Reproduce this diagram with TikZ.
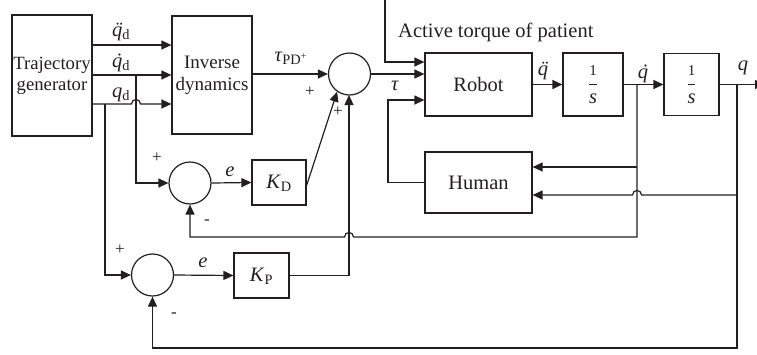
\documentclass[tikz,border=0pt]{standalone}
\usepackage{fix-cm}
\usepackage{fontspec}
\setmainfont{Liberation Serif}
\usetikzlibrary{arrows.meta}
\definecolor{ink}{RGB}{35,31,32}
\tikzset{
  ln/.style={draw=ink, line width=1.2pt},
  arr/.style={ln, -{Triangle[length=10pt,width=9pt]}},
  blk/.style={ln, rectangle, inner sep=0pt, font=\fontsize{20.5}{22}\selectfont, align=center, text=ink},
  sumc/.style={ln, circle, minimum size=42pt, inner sep=0pt},
  lab/.style={inner sep=0pt, font=\fontsize{20.5}{22}\selectfont, text=ink},
  sgn/.style={inner sep=0pt, font=\fontsize{17}{17}\selectfont, text=ink},
}
\newcommand{\oneoverS}{$\displaystyle\frac{\mbox{\fontsize{15}{15}\selectfont 1}}{\mbox{\textit{s}}}$}
\newcommand{\lsub}[1]{\textsubscript{#1}}
\newcommand{\accq}[1]{{\ooalign{\textit{q}\cr\hidewidth\kern0.12em\textit{#1}\hidewidth\cr}}}
\newcommand{\qdd}{\accq{\char"00A8}}
\newcommand{\qd}{\accq{\char"02D9}}
\begin{document}
\begin{tikzpicture}[x=1pt,y=-1pt]
\useasboundingbox (0,0) rectangle (757,354);
\clip (0,0) rectangle (757,354);
% blocks
\node[blk, minimum width=80pt, minimum height=121pt, font=\fontsize{18.7}{21}\selectfont] (tg) at (52,75.5) {Trajectory\\generator};
\node[blk, minimum width=80pt, minimum height=118pt, font=\fontsize{19}{22}\selectfont] (inv) at (212,75) {Inverse\\dynamics};
\node[sumc] (s1) at (349.5,74) {};
\node[blk, minimum width=107pt, minimum height=63pt] (rob) at (478.5,84.5) {Robot};
\node[blk, minimum width=60pt, minimum height=63pt] (i1) at (593,84.5) {\oneoverS};
\node[blk, minimum width=55pt, minimum height=62pt] (i2) at (691.5,84.5) {\oneoverS};
\node[blk, minimum width=107pt, minimum height=61pt] (hum) at (478.5,182.5) {Human};
\node[sumc] (sD) at (190,183) {};
\node[blk, minimum width=54pt, minimum height=45pt] (kd) at (279,182.5) {};
\node[lab, anchor=base] (kdl) at (279,188) {\textit{K}\lsub{D}};
\node[sumc] (sP) at (152.5,275) {};
\node[blk, minimum width=55pt, minimum height=45pt] (kp) at (261.5,275.5) {};
\node[lab, anchor=base] (kpl) at (261.5,281) {\textit{K}\lsub{P}};
% coordinates
\coordinate (top) at (385,-2);
\coordinate (bD) at (136,75);
\coordinate (bP) at (105,104);
\coordinate (b1) at (637,84.5);
\coordinate (b2) at (737,84.5);
\coordinate (outq) at (765,84.5);
% trajectory outputs
\draw[arr] (tg.east|-0,45) -- (inv.west|-0,45);
\draw[arr] (tg.east|-bD) -- (inv.west|-bD);
\draw[arr] (tg.east|-bP) -- (131.5,104) .. controls (131.5,98) and (140.5,98) .. (140.5,104) -- (inv.west|-bP);
\draw[arr] (bD) |- (sD.west);
\draw[arr] (bP) |- (sP.west);
% forward path
\draw[arr] (inv.east|-s1) -- (s1.west);
\draw[arr] (s1.east) -- (rob.west|-s1);
\draw[arr] (top) |- (rob.west|-0,62);
\draw[arr] (rob.east) -- (i1.west);
\draw[arr] (i1.east) -- (i2.west);
\draw[arr] (i2.east) -- (outq);
% PD
\draw[arr] (sD.east) -- (kd.west);
\draw[arr] (sP.east) -- (kp.west);
\draw[arr] ([yshift=-3pt]kd.east) -- (s1.-125);
\draw[arr] (kp.east) -- (349,275.5) -- (349,95);
% feedback
\draw[arr] (b1) -- (637,237) -- (353.5,237) .. controls (353.5,231) and (344.5,231) .. (344.5,237) -- (sD.south|-0,237) -- (sD.south);
\draw[arr] (b2) -- (737,348) -- (sP.south|-0,348) -- (sP.south);
\draw[arr] (637,167) -- (hum.east|-0,167);
\draw[arr] (737,195) -- (641.5,195) .. controls (641.5,189) and (632.5,189) .. (632.5,195) -- (hum.east|-0,195);
\draw[arr] (hum.west) -- (388,182.5) -- (388,100) -- (rob.west|-0,100);
% labels
\node[lab, anchor=base] at (121,36) {\qdd\lsub{d}};
\node[lab, anchor=base] at (121,67) {\qd\lsub{d}};
\node[lab, anchor=base] at (121,97) {\textit{q}\lsub{d}};
\node[lab, anchor=base] at (291,61) {\textit{τ}\lsub{PD\textsuperscript{+}}};
\node[sgn] at (310,92) {+};
\node[sgn] at (338,112) {+};
\node[lab, anchor=base west] at (398,37) {Active torque of patient};
\node[lab, anchor=base] at (395,90) {\textit{τ}};
\node[lab, anchor=base] at (543,75) {\qdd};
\node[lab, anchor=base] at (643,78) {\qd};
\node[lab, anchor=base] at (743,70) {\textit{q}};
\node[lab, anchor=base] at (230,176) {\textit{e}};
\node[lab, anchor=base] at (203,267) {\textit{e}};
\node[sgn] at (157,158) {+};
\node[sgn] at (207,222) {-};
\node[sgn] at (120,250) {+};
\node[sgn] at (174,315) {-};
\end{tikzpicture}
\end{document}
